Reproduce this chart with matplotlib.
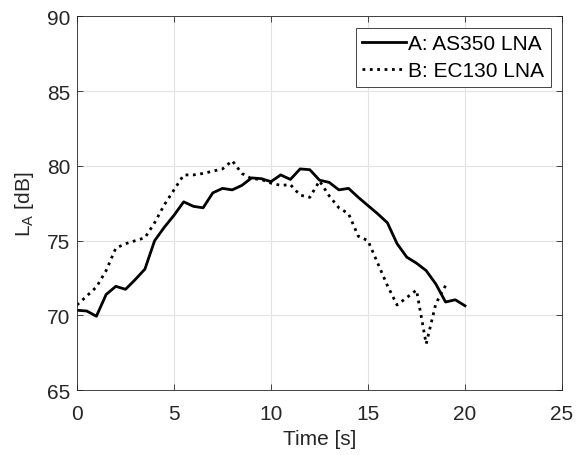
import numpy as np
import matplotlib
matplotlib.use("Agg")
import matplotlib.pyplot as plt

plt.rcParams['font.family'] = ['Liberation Sans', 'DejaVu Sans']

time_a = np.arange(0, 20.01, 0.5)
level_a = [70.35, 70.3, 69.95, 71.4, 71.95, 71.75, 72.4, 73.1, 75.0, 75.9,
           76.7, 77.6, 77.3, 77.2, 78.2, 78.5, 78.4, 78.7, 79.2, 79.15,
           78.95, 79.4, 79.1, 79.8, 79.75, 79.05, 78.9, 78.4, 78.5, 77.9,
           77.35, 76.8, 76.2, 74.8, 73.9, 73.5, 73.0, 72.1, 70.9, 71.05,
           70.65]

time_b = np.arange(0, 19.01, 0.5)
level_b = [70.7, 71.3, 71.9, 73.0, 74.5, 74.8, 75.0, 75.2, 76.2, 77.4,
           78.4, 79.4, 79.4, 79.5, 79.65, 79.8, 80.35, 79.5, 79.15, 79.1,
           78.85, 78.7, 78.75, 78.05, 77.9, 79.0, 78.0, 77.2, 76.8, 75.3,
           75.0, 73.5, 72.0, 70.7, 71.2, 71.7, 68.1, 70.8, 72.0]

label_a = "A: AS350 LNA"
label_b = "B: EC130 LNA"
xticks = [0, 5, 10, 15, 20, 25]
yticks = [65, 70, 75, 80, 85, 90]

fig = plt.figure(figsize=(5.79, 4.56), dpi=100)
ax = fig.add_axes([0.133, 0.142, 0.8376, 0.8198])

ax.plot(time_a, level_a, color='black', linestyle='-', linewidth=2.0, label=label_a)
ax.plot(time_b, level_b, color='black', linestyle=':', linewidth=2.0, label=label_b)

ax.set_xlim(0, 25)
ax.set_ylim(65, 90)
ax.set_xticks(xticks)
ax.set_yticks(yticks)
ax.grid(True, color='#e2e2e2', linewidth=0.8)
ax.set_axisbelow(True)
ax.tick_params(direction='in', top=True, right=True, labelsize=15,
               colors='#262626', length=4, width=0.6, pad=5)
ax.tick_params(axis='x', pad=10)
for sp in ax.spines.values():
    sp.set_color('#262626')
    sp.set_linewidth(0.6)

ax.set_xlabel('Time [s]', fontsize=15, color='#262626', labelpad=4)
ax.set_ylabel(r'L$_{\mathregular{A}}$ [dB]', fontsize=15, color='#262626', labelpad=8)

leg = ax.legend(loc='upper right', fontsize=15, fancybox=False, framealpha=1,
                edgecolor='#262626', borderpad=0.3, handlelength=2.1,
                handletextpad=0.1, labelspacing=0.4, borderaxespad=0.55)
leg.get_frame().set_linewidth(0.6)

fig.savefig('out.png', dpi=100)
